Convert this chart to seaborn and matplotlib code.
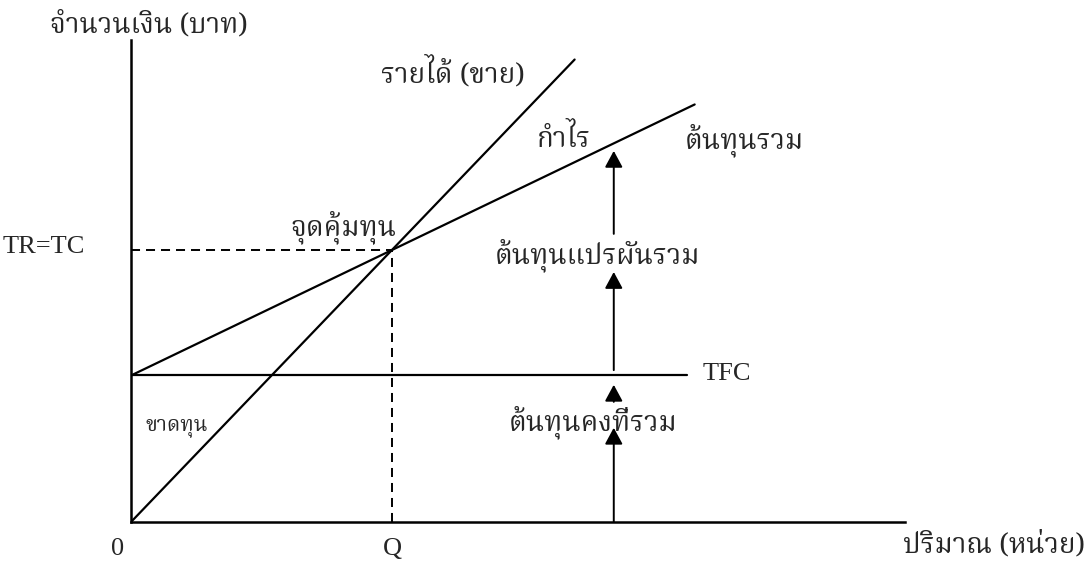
import matplotlib
matplotlib.use("Agg")
import matplotlib.pyplot as plt
import seaborn as sns

# values: quantity in units, money in baht
tr_quantity = [0, 170]
tr_revenue = [0, 94700]
tc_quantity = [0, 216]
tc_cost = [30000, 85500]
tfc_quantity = [0, 213]
tfc_cost = [30000, 30000]
be_quantity = 100
be_value = 55700
arrow_quantity = 185
arrow_from = [59000, 31100, 24600, 0]
arrow_to = [76000, 51200, 28100, 19300]

sns.set_style("white")
thai_family = ["Noto Serif Thai", "Liberation Serif", "DejaVu Sans"]
latin_family = ["Liberation Serif", "DejaVu Serif"]
plt.rcParams["font.family"] = thai_family

fig = plt.figure(figsize=(10.88, 5.64), dpi=100)
ax = fig.add_axes([131 / 1088, 42 / 564, 774 / 1088, 482 / 564])
ax.set_xlim(0, 296.6)
ax.set_ylim(0, 98700)

lw = 1.6
sns.lineplot(x=tr_quantity, y=tr_revenue, color="black", lw=lw, ax=ax)
sns.lineplot(x=tc_quantity, y=tc_cost, color="black", lw=lw, ax=ax)
sns.lineplot(x=tfc_quantity, y=tfc_cost, color="black", lw=lw, ax=ax)

dash = (0, (6.5 / 1.4, 4.3 / 1.4))
ax.plot([0, be_quantity], [be_value, be_value], color="black", lw=1.4, ls=dash)
ax.plot([be_quantity, be_quantity], [0, be_value], color="black", lw=1.4, ls=dash)

for y0, y1 in zip(arrow_from, arrow_to):
    ax.annotate("", xy=(arrow_quantity, y1), xytext=(arrow_quantity, y0),
                arrowprops=dict(arrowstyle="-|>,head_length=0.5,head_width=0.27",
                                mutation_scale=20, color="black", lw=1.4,
                                shrinkA=0, shrinkB=0))

for side in ["top", "right"]:
    ax.spines[side].set_visible(False)
for side in ["left", "bottom"]:
    ax.spines[side].set_color("black")
    ax.spines[side].set_linewidth(1.8)
ax.set_xticks([])
ax.set_yticks([])

thai_kw = dict(family=thai_family, va="baseline")
tsize = 20
ax.text(-31.0, 100140, "จำนวนเงิน (บาท)", fontsize=tsize, **thai_kw)
ax.text(151.0, 89900, "รายได้ (ขาย)", fontsize=tsize, ha="right", **thai_kw)
ax.text(155.6, 76800, "กำไร", fontsize=tsize, **thai_kw)
ax.text(212.3, 76600, "ต้นทุนรวม", fontsize=tsize, **thai_kw)
ax.text(60.9, 58780, "จุดคุ้มทุน", fontsize=tsize, **thai_kw)
ax.text(139.5, 53040, "ต้นทุนแปรผันรวม", fontsize=tsize, **thai_kw)
ax.text(209.2, 18840, "ต้นทุนคงที่รวม", fontsize=tsize, ha="right", **thai_kw)
ax.text(5.4, 18840, "ขาดทุน", fontsize=15, **thai_kw)
ax.text(295.8, -6140, "ปริมาณ (หน่วย)", fontsize=tsize, **thai_kw)

lsize = 19
ax.text(-17.6, 55090, "TR=TC", fontsize=lsize, family=latin_family, ha="right", va="baseline")
ax.text(219.0, 29080, "TFC", fontsize=lsize, family=latin_family, va="baseline")
ax.text(-5.0, -6760, "0", fontsize=lsize, family=latin_family, ha="center", va="baseline")
ax.text(be_quantity, -6760, "Q", fontsize=lsize, family=latin_family, ha="center", va="baseline")

fig.savefig("out.png", dpi=100)
